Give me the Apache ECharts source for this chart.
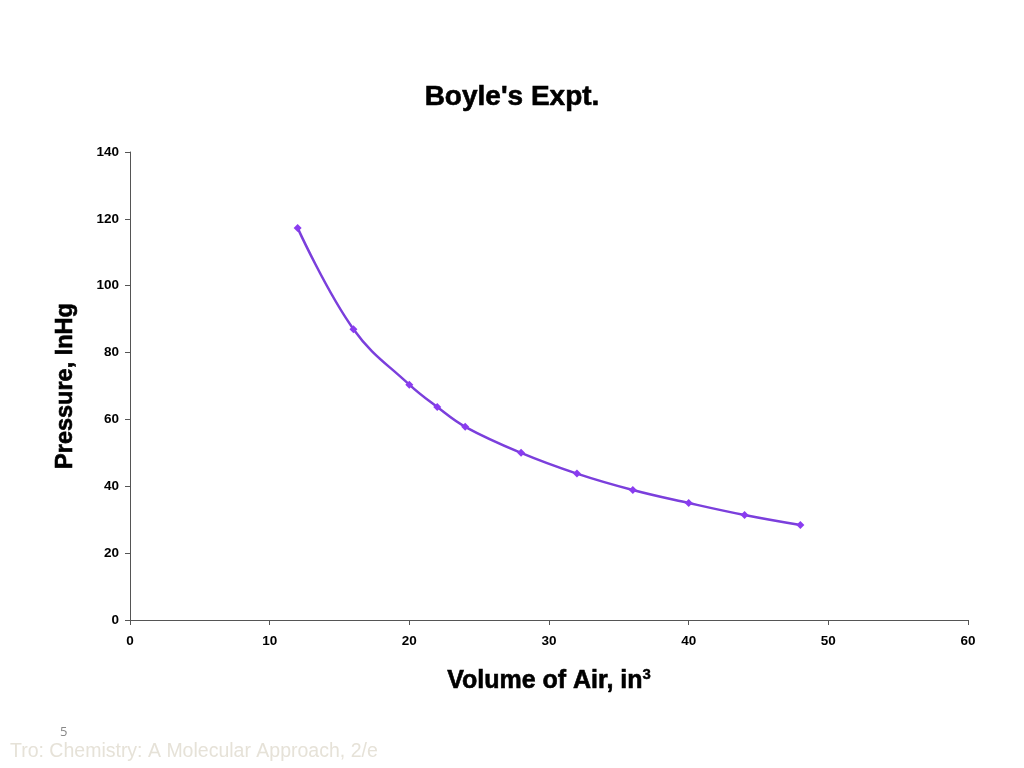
<!DOCTYPE html>
<html><head><meta charset="utf-8">
<script src="https://cdn.jsdelivr.net/npm/echarts@6/dist/echarts.min.js"></script>
<style>html,body{margin:0;padding:0;background:#fff}#c{width:1024px;height:768px}</style>
</head><body><div id="c"></div>
<script>
var volume = [12, 16, 20, 22, 24, 28, 32, 36, 40, 44, 48];
var pressure = [117.3, 87.0, 70.4, 63.7, 57.8, 50.0, 43.8, 38.9, 35.0, 31.4, 28.4];
var title = "Boyle's Expt.";
var xName = 'Volume of Air, in{sup|3}';
var yName = 'Pressure, InHg';

var chart = echarts.init(document.getElementById('c'));
var pts = volume.map(function(v, i){ return [v, pressure[i]]; });
var font = 'Arial, "Liberation Sans", sans-serif';
chart.setOption({
  animation: false,
  backgroundColor: '#fff',
  title: { text: title, left: 'center', top: 78,
    textStyle: { fontFamily: font, fontSize: 28, fontWeight: 'bold', color: '#000', textBorderColor: '#000', textBorderWidth: 0.6 } },
  grid: { left: 130, right: 56, top: 152, bottom: 148 },
  xAxis: { type: 'value', min: 0, max: 60, interval: 10,
    name: xName, nameLocation: 'middle', nameGap: 47,
    nameTextStyle: { fontFamily: font, fontSize: 25, fontWeight: 'bold', color: '#000', textBorderColor: '#000', textBorderWidth: 0.6,
      rich: { sup: { fontFamily: font, fontSize: 15, fontWeight: 'bold', color: '#000', textBorderColor: '#000', textBorderWidth: 0.4, verticalAlign: 'top', padding: [0,0,14,0] } } },
    axisLine: { lineStyle: { color: '#555', width: 1 } },
    axisTick: { show: true, length: 5, lineStyle: { color: '#555' } },
    splitLine: { show: false },
    axisLabel: { fontFamily: font, fontSize: 13.5, fontWeight: 'bold', color: '#000', margin: 14 } },
  yAxis: { type: 'value', min: 0, max: 140, interval: 20,
    name: yName, nameLocation: 'middle', nameGap: 52, nameRotate: 90,
    nameTextStyle: { fontFamily: font, fontSize: 23.5, fontWeight: 'bold', color: '#000', textBorderColor: '#000', textBorderWidth: 0.6 },
    axisLine: { show: true, lineStyle: { color: '#555', width: 1 } },
    axisTick: { show: true, length: 5, lineStyle: { color: '#555' } },
    splitLine: { show: false },
    axisLabel: { fontFamily: font, fontSize: 13.5, fontWeight: 'bold', color: '#000', margin: 11 } },
  series: [{
    type: 'line', data: pts, smooth: 0.4,
    symbol: 'diamond', symbolSize: 8,
    lineStyle: { color: '#7B3FDC', width: 2.5 },
    itemStyle: { color: '#8A3CF0' }
  }],
  graphic: [
    { type: 'text', left: 60, top: 726, style: { text: '5', font: '13px "Open Sans", sans-serif', fill: '#888' } },
    { type: 'text', left: 10, top: 742, style: { text: 'Tro: Chemistry: A Molecular Approach, 2/e', font: '19.5px Arial, "Liberation Sans", sans-serif', fill: '#E6E2D8' } }
  ]
});
</script></body></html>
